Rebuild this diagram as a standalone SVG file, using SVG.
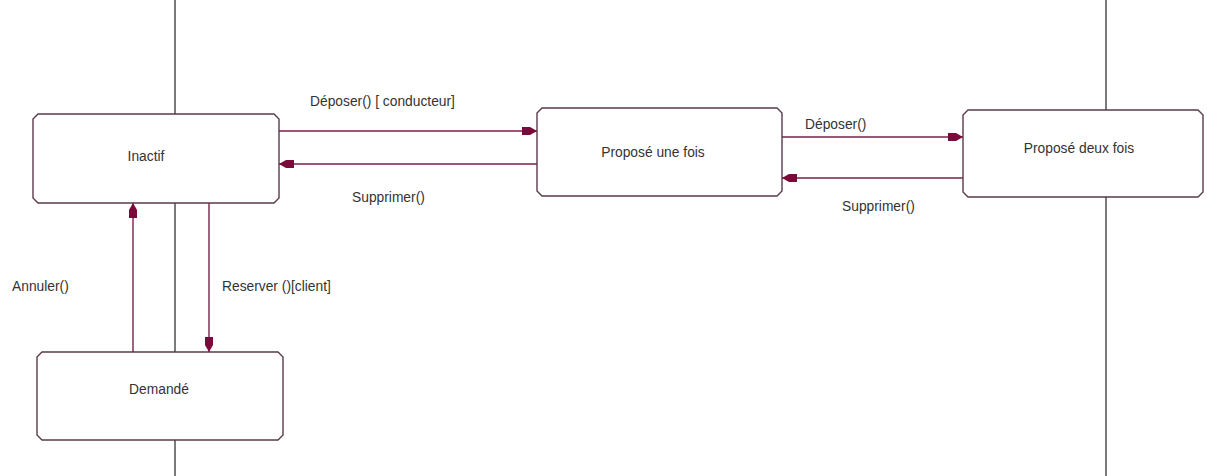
<svg xmlns="http://www.w3.org/2000/svg" width="1207" height="476" viewBox="0 0 1207 476">
<style>
.bg{fill:#ffffff}
.life{stroke:#222;stroke-width:1.2;fill:none}
.state{fill:#ffffff;stroke:#5a3a4a;stroke-width:1.4}
.conn{stroke:#7a1f4a;stroke-width:1.4;fill:none;marker-end:url(#ah)}
text{font-family:"Liberation Sans",Arial,sans-serif;font-size:13.8px;fill:#333}
</style>
<defs>
<marker id="ah" markerWidth="16" markerHeight="10" refX="15" refY="5" orient="auto" markerUnits="userSpaceOnUse">
<path d="M0,1 L8,1 L15,5 L8,9 L0,9 Z" fill="#7a0a3a"/>
</marker>
</defs>
<rect class="bg" x="0" y="0" width="1207" height="476"/>
<g id="lifelines">
<line class="life" x1="175" y1="0" x2="175" y2="476"/>
<line class="life" x1="1106" y1="0" x2="1106" y2="476"/>
</g>
<g id="connectors">
<line class="conn" x1="279" y1="131" x2="537" y2="131"/>
<line class="conn" x1="537" y1="164" x2="279" y2="164"/>
<line class="conn" x1="782" y1="137" x2="963" y2="137"/>
<line class="conn" x1="963" y1="178" x2="782" y2="178"/>
<line class="conn" x1="133" y1="352" x2="133" y2="203"/>
<line class="conn" x1="209" y1="203" x2="209" y2="352"/>
<text x="310" y="106">Déposer() [ conducteur]</text>
<text x="352" y="202">Supprimer()</text>
<text x="805" y="129">Déposer()</text>
<text x="842" y="211">Supprimer()</text>
<text x="12" y="291">Annuler()</text>
<text x="222" y="291">Reserver ()[client]</text>
</g>
<g id="inactif">
<path class="state" d="M38,114 L274,114 L279,119 L279,198 L274,203 L38,203 L33,198 L33,119 Z"/>
<text x="146" y="161" text-anchor="middle">Inactif</text>
</g>
<g id="propose-une-fois">
<path class="state" d="M542,108 L777,108 L782,113 L782,191 L777,196 L542,196 L537,191 L537,113 Z"/>
<text x="653" y="157" text-anchor="middle">Proposé une fois</text>
</g>
<g id="propose-deux-fois">
<path class="state" d="M968,110 L1198,110 L1203,115 L1203,192 L1198,197 L968,197 L963,192 L963,115 Z"/>
<text x="1079" y="153" text-anchor="middle">Proposé deux fois</text>
</g>
<g id="demande">
<path class="state" d="M42,352 L278,352 L283,357 L283,435 L278,440 L42,440 L37,435 L37,357 Z"/>
<text x="159" y="394" text-anchor="middle">Demandé</text>
</g>
</svg>
